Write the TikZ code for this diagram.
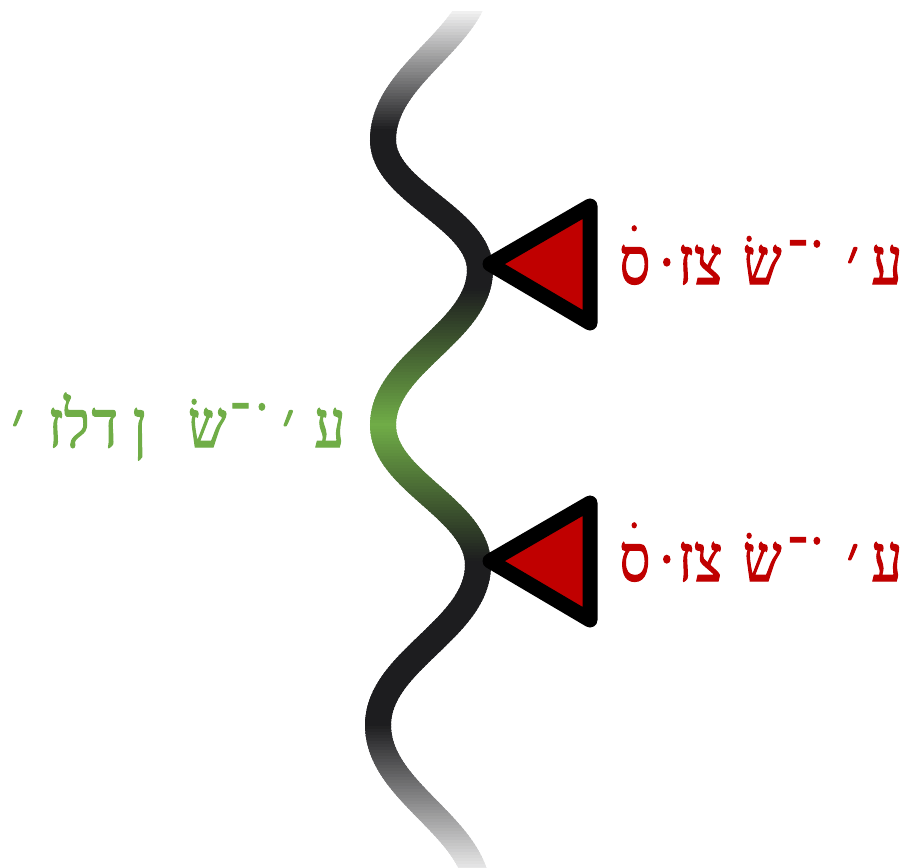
\documentclass[tikz,border=0pt]{standalone}
\usepackage{fontspec}
\newfontfamily\hebfont[Script=Hebrew,FakeStretch=0.82,FakeBold=1.6]{Liberation Serif}
\TeXXeTstate=1
\definecolor{dk}{HTML}{1D1D1F}
\definecolor{gr}{HTML}{70AD47}
\definecolor{rd}{HTML}{C00000}
\newcommand\gl[1]{\makebox[0pt]{#1}}
\def\wavepath{(480,-30) .. controls (480,38) and (383,72) .. (383,140)
  .. controls (383,192) and (480,218) .. (480,270)
  .. controls (480,332) and (383,363) .. (383,425)
  .. controls (383,481) and (478,509) .. (478,565)
  .. controls (478,629) and (378,661) .. (378,725)
  .. controls (378,793) and (478,827) .. (478,895)}
\newcommand\redtext{\beginR\gl{ע}\kern34pt\gl{׳}\kern36pt\gl{˙}\kern19.5pt\gl{־}\kern35pt\gl{שׂ}\kern54pt\gl{צ}\kern22.5pt\gl{ז}\kern19pt\gl{·}\kern32pt\gl{סׄ}\endR}
\newcommand\greentext{\beginR\gl{ע}\kern41.5pt\gl{׳}\kern26.5pt\gl{˙}\kern22pt\gl{־}\kern32.5pt\gl{שׂ}\kern67.5pt\gl{ן}\kern35pt\gl{ד}\kern28pt\gl{ל}\kern21pt\gl{ז}\kern38pt\gl{׳}\endR}
\begin{document}
\begin{tikzpicture}[x=1pt,y=-1pt,
  wave/.style={line width=26pt,line cap=butt},
  tri/.style={fill=rd,draw=black,line width=15pt,line join=round},
  heb/.style={inner sep=0pt,anchor=base east,font=\hebfont\fontsize{66}{78}\selectfont}]
\useasboundingbox (0,0) rectangle (907,867);
\foreach \i in {0,...,285} {
  \pgfmathsetmacro\ya{12+3*\i}
  \pgfmathsetmacro\yc{\ya+1.5}
  \pgfmathsetmacro\dd{100*max(0,min(1,min((\yc-5)/125,(885-\yc)/160)))}
  \pgfmathsetmacro\gg{100*max(0,1-abs(\yc-425)/136)}
  \colorlet{basecol}{dk!\dd!white}
  \colorlet{stripcol}{gr!\gg!basecol}
  \begin{scope}
    \clip (0,\ya) rectangle (907,\ya+4);
    \draw[wave,stripcol] \wavepath;
  \end{scope}
}
\draw[tri] (490,264) coordinate (t1tip) -- (590,206) -- (590,323) -- cycle;
\draw[tri] (490,561) coordinate (t2tip) -- (590,503) -- (590,620) -- cycle;
\node[heb,text=rd] (lab1) at (887,284) {\redtext};
\node[heb,text=rd] (lab2) at (887,581) {\redtext};
\node[heb,text=gr] (lab3) at (330,447) {\greentext};
\end{tikzpicture}
\end{document}
